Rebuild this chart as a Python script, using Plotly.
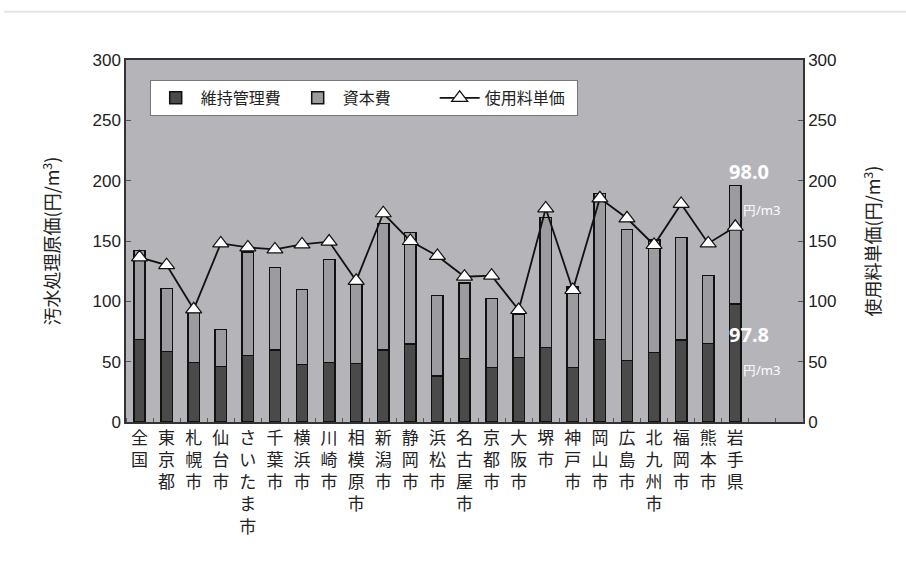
import plotly.graph_objects as go

# Cities / prefectures along the x axis
labels = ["全国", "東京都", "札幌市", "仙台市", "さいたま市", "千葉市", "横浜市", "川崎市",
          "相模原市", "新潟市", "静岡市", "浜松市", "名古屋市", "京都市", "大阪市", "堺市",
          "神戸市", "岡山市", "広島市", "北九州市", "福岡市", "熊本市", "岩手県"]

# 維持管理費 (円/m3)
maintenance = [68.5, 58.3, 49.5, 45.8, 55.0, 59.7, 47.5, 49.2, 48.6, 59.7, 64.6, 38.1,
               52.5, 45.0, 53.3, 61.9, 45.0, 68.5, 50.8, 57.4, 68.0, 65.2, 97.8]
# 資本費 (円/m3)
capital = [73.5, 52.2, 41.5, 31.0, 86.0, 68.2, 62.5, 85.6, 67.7, 104.9, 92.3, 66.6,
           62.5, 57.5, 35.9, 107.7, 67.0, 121.0, 108.9, 93.4, 85.0, 56.1, 98.0]
# 使用料単価 (円/m3)
unit_price = [136.5, 130, 93.4, 148, 144.7, 143, 147.2, 149.5, 117, 173, 150, 137.6,
              120.4, 121.3, 92.8, 177, 109.4, 185.4, 168.8, 146.7, 180.7, 148, 161.8]

y_ticks = [0, 50, 100, 150, 200, 250, 300]

xpos = list(range(len(labels)))
vertical_labels = ["<br>".join(list(s)) for s in labels]

BAR_W = 0.42
fig = go.Figure()
fig.add_trace(go.Bar(
    x=xpos, y=maintenance, name="維持管理費", width=BAR_W,
    marker=dict(color="#4a4a4a", line=dict(color="#111111", width=1.5)),
))
fig.add_trace(go.Bar(
    x=xpos, y=capital, name="資本費", width=BAR_W,
    marker=dict(color="#9c9ca0", line=dict(color="#111111", width=1.5)),
))
fig.add_trace(go.Scatter(
    x=xpos, y=unit_price, name="使用料単価", yaxis="y2", mode="lines+markers",
    line=dict(color="#111111", width=1.8),
    marker=dict(symbol="triangle-up", size=14, color="white",
                line=dict(color="#111111", width=1.2)),
))

# value notes for 岩手県
last = len(labels) - 1
total_last = maintenance[last] + capital[last]
notes = [
    (total_last, f"{capital[last]:.1f}", 20, "bold", 0, 14),
    (total_last, "円/m3", 13, "normal", 13, -24),
    (maintenance[last], f"{maintenance[last]:.1f}", 20, "bold", 0, -31),
    (maintenance[last], "円/m3", 13, "normal", 13, -66),
]
annotations = []
for yv, txt, size, weight, dx, dy in notes:
    annotations.append(dict(
        x=last + 0.5, y=yv, xref="x", yref="y", text=txt, showarrow=False,
        xshift=dx, yshift=dy,
        font=dict(family="Noto Sans, DejaVu Sans", size=size, color="white", weight=weight),
    ))

axis_font = dict(family="Liberation Sans, Arial", size=17, color="#222222")
title_font = dict(family="Noto Sans CJK JP", size=18, color="#222222")

fig.update_layout(
    width=906, height=587,
    margin=dict(l=126, r=103, t=60, b=165),
    paper_bgcolor="white", plot_bgcolor="#b5b5b9",
    barmode="stack", showlegend=True,
    font=dict(family="Noto Sans CJK JP", color="#222222"),
    legend=dict(
        orientation="h", x=0.035, y=0.945, xanchor="left", yanchor="top",
        bgcolor="white", bordercolor="#777777", borderwidth=1,
        font=dict(family="Noto Sans CJK JP", size=16, color="#222222"),
        traceorder="normal", itemwidth=40, entrywidth=87,
    ),
    xaxis=dict(
        range=[-0.5, 24.5], tickmode="array", tickvals=xpos, ticktext=vertical_labels,
        ticks="", showgrid=False, zeroline=False,
        showline=True, linecolor="#333333", linewidth=1.5, mirror=True,
        tickfont=dict(family="Noto Sans CJK JP", size=17, color="#222222"),
        tickangle=0,
        minor=dict(tick0=0.5, dtick=1, ticks="inside", ticklen=4,
                   tickcolor="#555555", showgrid=False),
    ),
    yaxis=dict(
        range=[0, 300], tickvals=y_ticks, ticks="inside", ticklen=5,
        tickcolor="#555555", showgrid=False, zeroline=False,
        showline=True, linecolor="#333333", linewidth=1.5,
        tickfont=axis_font,
        title=dict(text="汚水処理原価(円/m<sup>3</sup>)", standoff=28, font=title_font),
    ),
    yaxis2=dict(
        range=[0, 300], tickvals=y_ticks, overlaying="y", side="right",
        ticks="inside", ticklen=5, tickcolor="#555555",
        showgrid=False, zeroline=False,
        showline=True, linecolor="#333333", linewidth=1.5,
        tickfont=axis_font,
        title=dict(text="使用料単価(円/m<sup>3</sup>)", standoff=32, font=title_font),
    ),
    annotations=annotations,
    shapes=[dict(type="line", xref="paper", yref="paper",
                 x0=-0.18, x1=1.16, y0=1.133, y1=1.133,
                 line=dict(color="#e4e4e4", width=2))],
    bargap=0.58,
)

fig.write_html("out.html")
